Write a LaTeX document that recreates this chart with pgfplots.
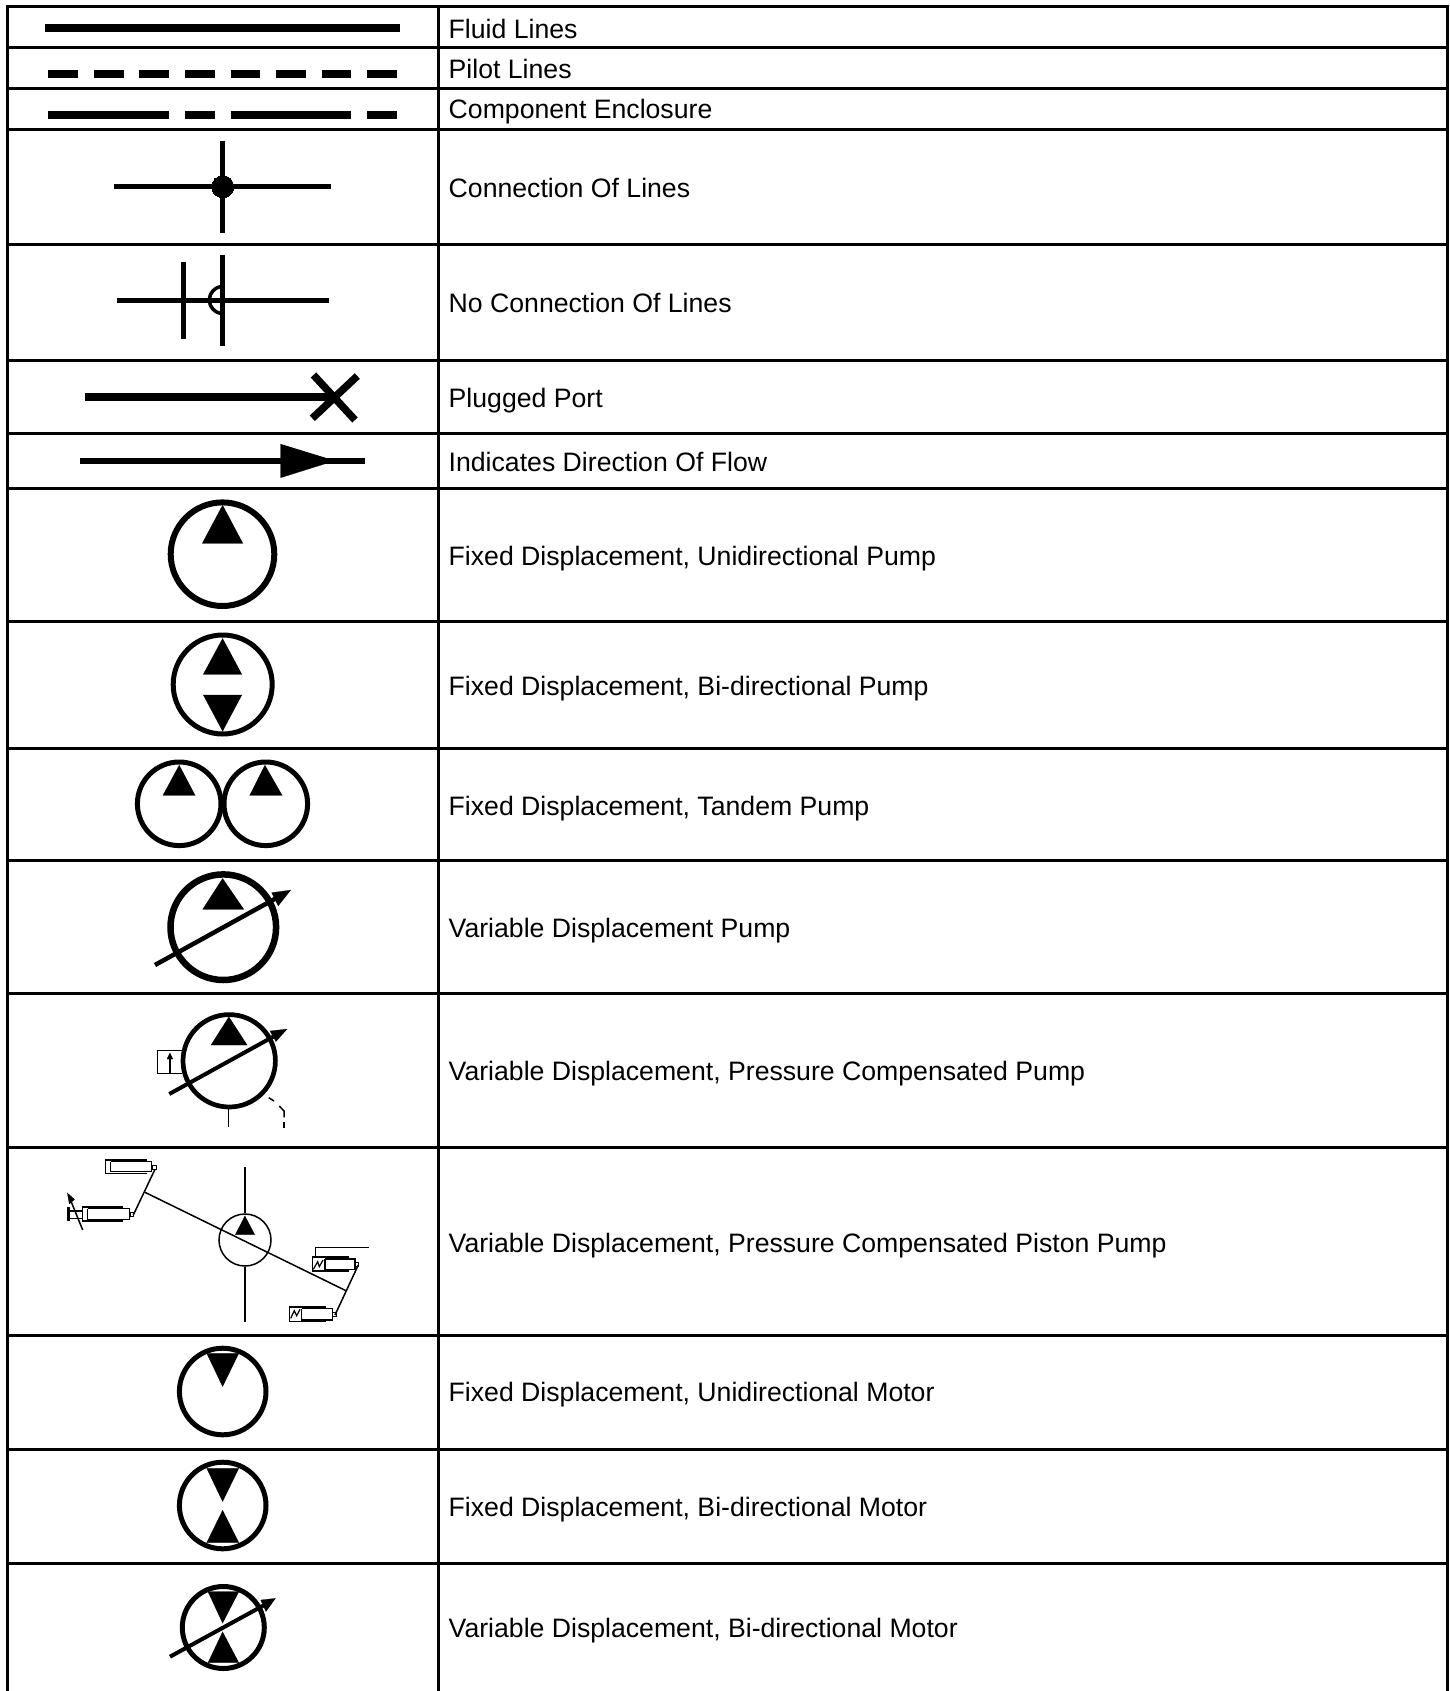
\documentclass[border=0pt]{standalone}
\usepackage{fontspec}
\setmainfont{Liberation Sans}
\usepackage{pgfplots}
\pgfplotsset{compat=1.18}
\newcommand{\seg}[2]{\addplot[black,no markers,line width=#1pt] coordinates {#2};}
\newcommand{\tri}[1]{\addplot[black,fill=black,no markers,line width=0.2pt] coordinates {#1};}
\newcommand{\ring}[3]{\addplot[only marks,mark=o,mark size=#1pt,mark options={draw=black,fill=none,line width=#2pt}] coordinates {#3};}
\newcommand{\lab}[2]{\node[anchor=base west,inner sep=0pt,text=black,font=\fontsize{26.65}{30}\selectfont] at (axis cs:448.5,#1) {#2};}
\begin{document}
\begin{tikzpicture}
\begin{axis}[hide axis,scale only axis,width=1449pt,height=1691pt,
  xmin=0,xmax=1449,ymin=0,ymax=1691,y dir=reverse,clip=true]
\addplot[fill=white,draw=none,no markers] coordinates {(0,0)(1449,0)(1449,1691)(0,1691)};
% grid
\seg{3}{(7,1691)(7,7)(1447,7)(1447,1691)}
\seg{3}{(438,7)(438,1691)}
\seg{3}{(7,48)(1447,48)}
\seg{3}{(7,89)(1447,89)}
\seg{3}{(7,129.5)(1447,129.5)}
\seg{3}{(7,244)(1447,244)}
\seg{3}{(7,360.5)(1447,360.5)}
\seg{3}{(7,433)(1447,433)}
\seg{3}{(7,488.5)(1447,488.5)}
\seg{3}{(7,621)(1447,621)}
\seg{3}{(7,748.7)(1447,748.7)}
\seg{3}{(7,860)(1447,860)}
\seg{3}{(7,993.5)(1447,993.5)}
\seg{3}{(7,1147.5)(1447,1147.5)}
\seg{3}{(7,1335)(1447,1335)}
\seg{3}{(7,1449)(1447,1449)}
\seg{3}{(7,1563)(1447,1563)}
% fluid, pilot, enclosure
\seg{8}{(45.3,28.3)(399.7,28.3)}
\seg{8}{(48.3,74)(78,74)}
\seg{8}{(94,74)(123.7,74)}
\seg{8}{(139.3,74)(169,74)}
\seg{8}{(185,74)(214.7,74)}
\seg{8}{(230.7,74)(260.3,74)}
\seg{8}{(276,74)(305.7,74)}
\seg{8}{(321.7,74)(351.3,74)}
\seg{8}{(367.3,74)(397,74)}
\seg{8}{(48.3,115)(169,115)}
\seg{8}{(185,115)(214.7,115)}
\seg{8}{(230.7,115)(351.3,115)}
\seg{8}{(367.3,115)(397,115)}
% connection
\seg{5}{(114.3,186.7)(331,186.7)}
\seg{5}{(222.7,140.7)(222.7,233.3)}
\addplot[only marks,mark=*,mark size=11pt,mark options={draw=black,fill=black,line width=0pt}] coordinates {(222.7,186.7)};
% no connection
\seg{5}{(116.7,300)(328.7,300)}
\seg{5}{(183,261.7)(183,338.7)}
\seg{5}{(222.7,255)(222.7,345.7)}
\seg{3.5}{(222.7,286.5)(219.2,287)(216,288.3)(212.8,291)(210.4,294.7)(209.2,300)(210.4,305.3)(212.8,309)(216,311.7)(219.2,313)(222.7,313.5)}
% plugged
\seg{8}{(85.3,397)(333,397)}
\seg{7.5}{(313.5,375)(355,420)}
\seg{7.5}{(357.3,376)(312.3,418.3)}
% direction
\seg{6}{(80.3,460.7)(364.7,460.7)}
\tri{(280.7,444)(280.7,477.7)(335,460.7)}
% fixed unidirectional pump
\ring{51.8}{6}{(222.5,554.2)}
\tri{(222.7,505)(202.3,543.3)(243,543.3)}
% fixed bidirectional pump
\ring{49.5}{5}{(222.7,684.5)}
\tri{(222.7,638.3)(203.3,674.3)(242,674.3)}
\tri{(222.7,731.3)(203.3,695)(242,695)}
% tandem
\ring{41.8}{5}{(179.2,803.8)}
\ring{41.8}{5}{(265.8,803.8)}
\tri{(179.3,765)(163,795.3)(195.3,795.3)}
\tri{(265,765)(249.7,795.3)(282.3,795.3)}
% variable pump
\ring{52.8}{6.5}{(223.3,927.2)}
\tri{(222.7,878.3)(202.7,909.3)(244,909.3)}
\seg{4.5}{(155,965)(281,895.5)}
\tri{(291,890)(271.7,892.7)(278.3,906)}
% variable pressure compensated pump
\seg{1.5}{(181.7,1050.7)(157.3,1050.7)(157.3,1073.3)(181.7,1073.3)}
\seg{1.5}{(170,1073.3)(170,1058)}
\tri{(170,1052.7)(167,1059)(173,1059)}
\ring{46.2}{4.7}{(229.2,1060.8)}
\tri{(229,1016.7)(211,1045)(247.3,1045)}
\seg{4}{(169.3,1094)(279,1033.5)}
\tri{(287.3,1029)(270,1031)(276,1041.7)}
\seg{1.5}{(228.7,1109)(228.7,1126.7)}
\seg{1.5}{(268.7,1097.7)(274,1101)}
\seg{1.5}{(279.3,1106)(284,1111)(284,1117.3)}
\seg{1.5}{(284,1121.7)(284,1128.3)}
% piston pump
\ring{26}{1.5}{(245,1240)}
\tri{(245,1215.7)(235.3,1234.7)(255,1234.7)}
\seg{1.5}{(245,1167.3)(245,1213.3)}
\seg{1.5}{(245,1266.7)(245,1321.7)}
\seg{1.5}{(145,1192.3)(346,1290.7)}
% top cylinder
\seg{1.5}{(146.7,1159.8)(105.3,1159.8)(105.3,1173.7)(146.7,1173.7)}
\seg{1.5}{(110.7,1161.7)(151.7,1161.7)(151.7,1171.7)(110.7,1171.7)(110.7,1161.7)}
\seg{1}{(152.7,1165)(156,1165)(156,1169.3)(152.7,1169.3)(152.7,1165)}
\seg{1.5}{(155,1169.3)(133.3,1215)}
% mid cylinder
\seg{1.5}{(123.3,1207)(82.5,1207)(82.5,1221)(123.3,1221)}
\seg{1.5}{(87.7,1208.7)(129.3,1208.7)(129.3,1219.3)(87.7,1219.3)(87.7,1208.7)}
\seg{1}{(130,1212.7)(133.3,1212.7)(133.3,1216)(130,1216)(130,1212.7)}
\seg{1.2}{(68.3,1211)(82.3,1211)}
\seg{1.2}{(68.3,1218.3)(82.3,1218.3)}
\seg{2.5}{(68.3,1206.7)(68.3,1220.7)}
\seg{1.5}{(82.7,1230)(70.5,1200)}
\tri{(67.3,1192.7)(69.3,1204)(74.7,1199.3)}
% upper right cylinder
\seg{1.2}{(349.3,1256.9)(312.2,1256.9)(312.2,1271)(349.3,1271)}
\seg{1.5}{(325,1259)(355,1259)(355,1269.3)(325,1269.3)(325,1259)}
\seg{1}{(355,1262.7)(358.3,1262.7)(358.3,1266.7)(355,1266.7)(355,1262.7)}
\seg{1.2}{(313.3,1269.3)(317.7,1261.7)(319.3,1266.7)(323,1260)}
\seg{1.5}{(315.3,1256.7)(315.3,1247.7)(369.3,1247.7)}
\seg{1.5}{(358.3,1265)(335,1315)}
% lower right cylinder
\seg{1.2}{(326,1306.9)(289.5,1306.9)(289.5,1321.5)(326,1321.5)}
\seg{1.5}{(301.7,1308.7)(332.7,1308.7)(332.7,1320)(301.7,1320)(301.7,1308.7)}
\seg{1}{(332.7,1312.3)(336,1312.3)(336,1316)(332.7,1316)(332.7,1312.3)}
\seg{1.2}{(290.7,1318.3)(294.3,1310.7)(296.7,1315.7)(300,1309.3)}
% motors
\ring{43.3}{5}{(222.7,1391.5)}
\tri{(222.7,1386.7)(206.7,1353.3)(239,1353.3)}
\ring{43.3}{5}{(222.7,1505.5)}
\tri{(222.7,1501.7)(206.7,1468.3)(239,1468.3)}
\tri{(222.7,1510)(206.7,1542.7)(239,1542.7)}
\ring{41}{5}{(223.3,1627.5)}
\tri{(222.7,1623.3)(208,1591.7)(239,1591.7)}
\tri{(222.7,1631.7)(208,1662.7)(239,1662.7)}
\seg{4}{(170,1656.7)(268,1603)}
\tri{(275.7,1598.3)(260.7,1600)(266,1611.7)}
% labels
\lab{38.6}{Fluid Lines}
\lab{78.6}{Pilot Lines}
\lab{119}{Component Enclosure}
\lab{197.6}{Connection Of Lines}
\lab{312}{No Connection Of Lines}
\lab{407}{Plugged Port}
\lab{471}{Indicates Direction Of Flow}
\lab{565}{Fixed Displacement, Unidirectional Pump}
\lab{695}{Fixed Displacement, Bi-directional Pump}
\lab{815}{Fixed Displacement, Tandem Pump}
\lab{937}{Variable Displacement Pump}
\lab{1080.5}{Variable Displacement, Pressure Compensated Pump}
\lab{1252}{Variable Displacement, Pressure Compensated Piston Pump}
\lab{1401.5}{Fixed Displacement, Unidirectional Motor}
\lab{1516}{Fixed Displacement, Bi-directional Motor}
\lab{1637.5}{Variable Displacement, Bi-directional Motor}
\end{axis}
\end{tikzpicture}
\end{document}
